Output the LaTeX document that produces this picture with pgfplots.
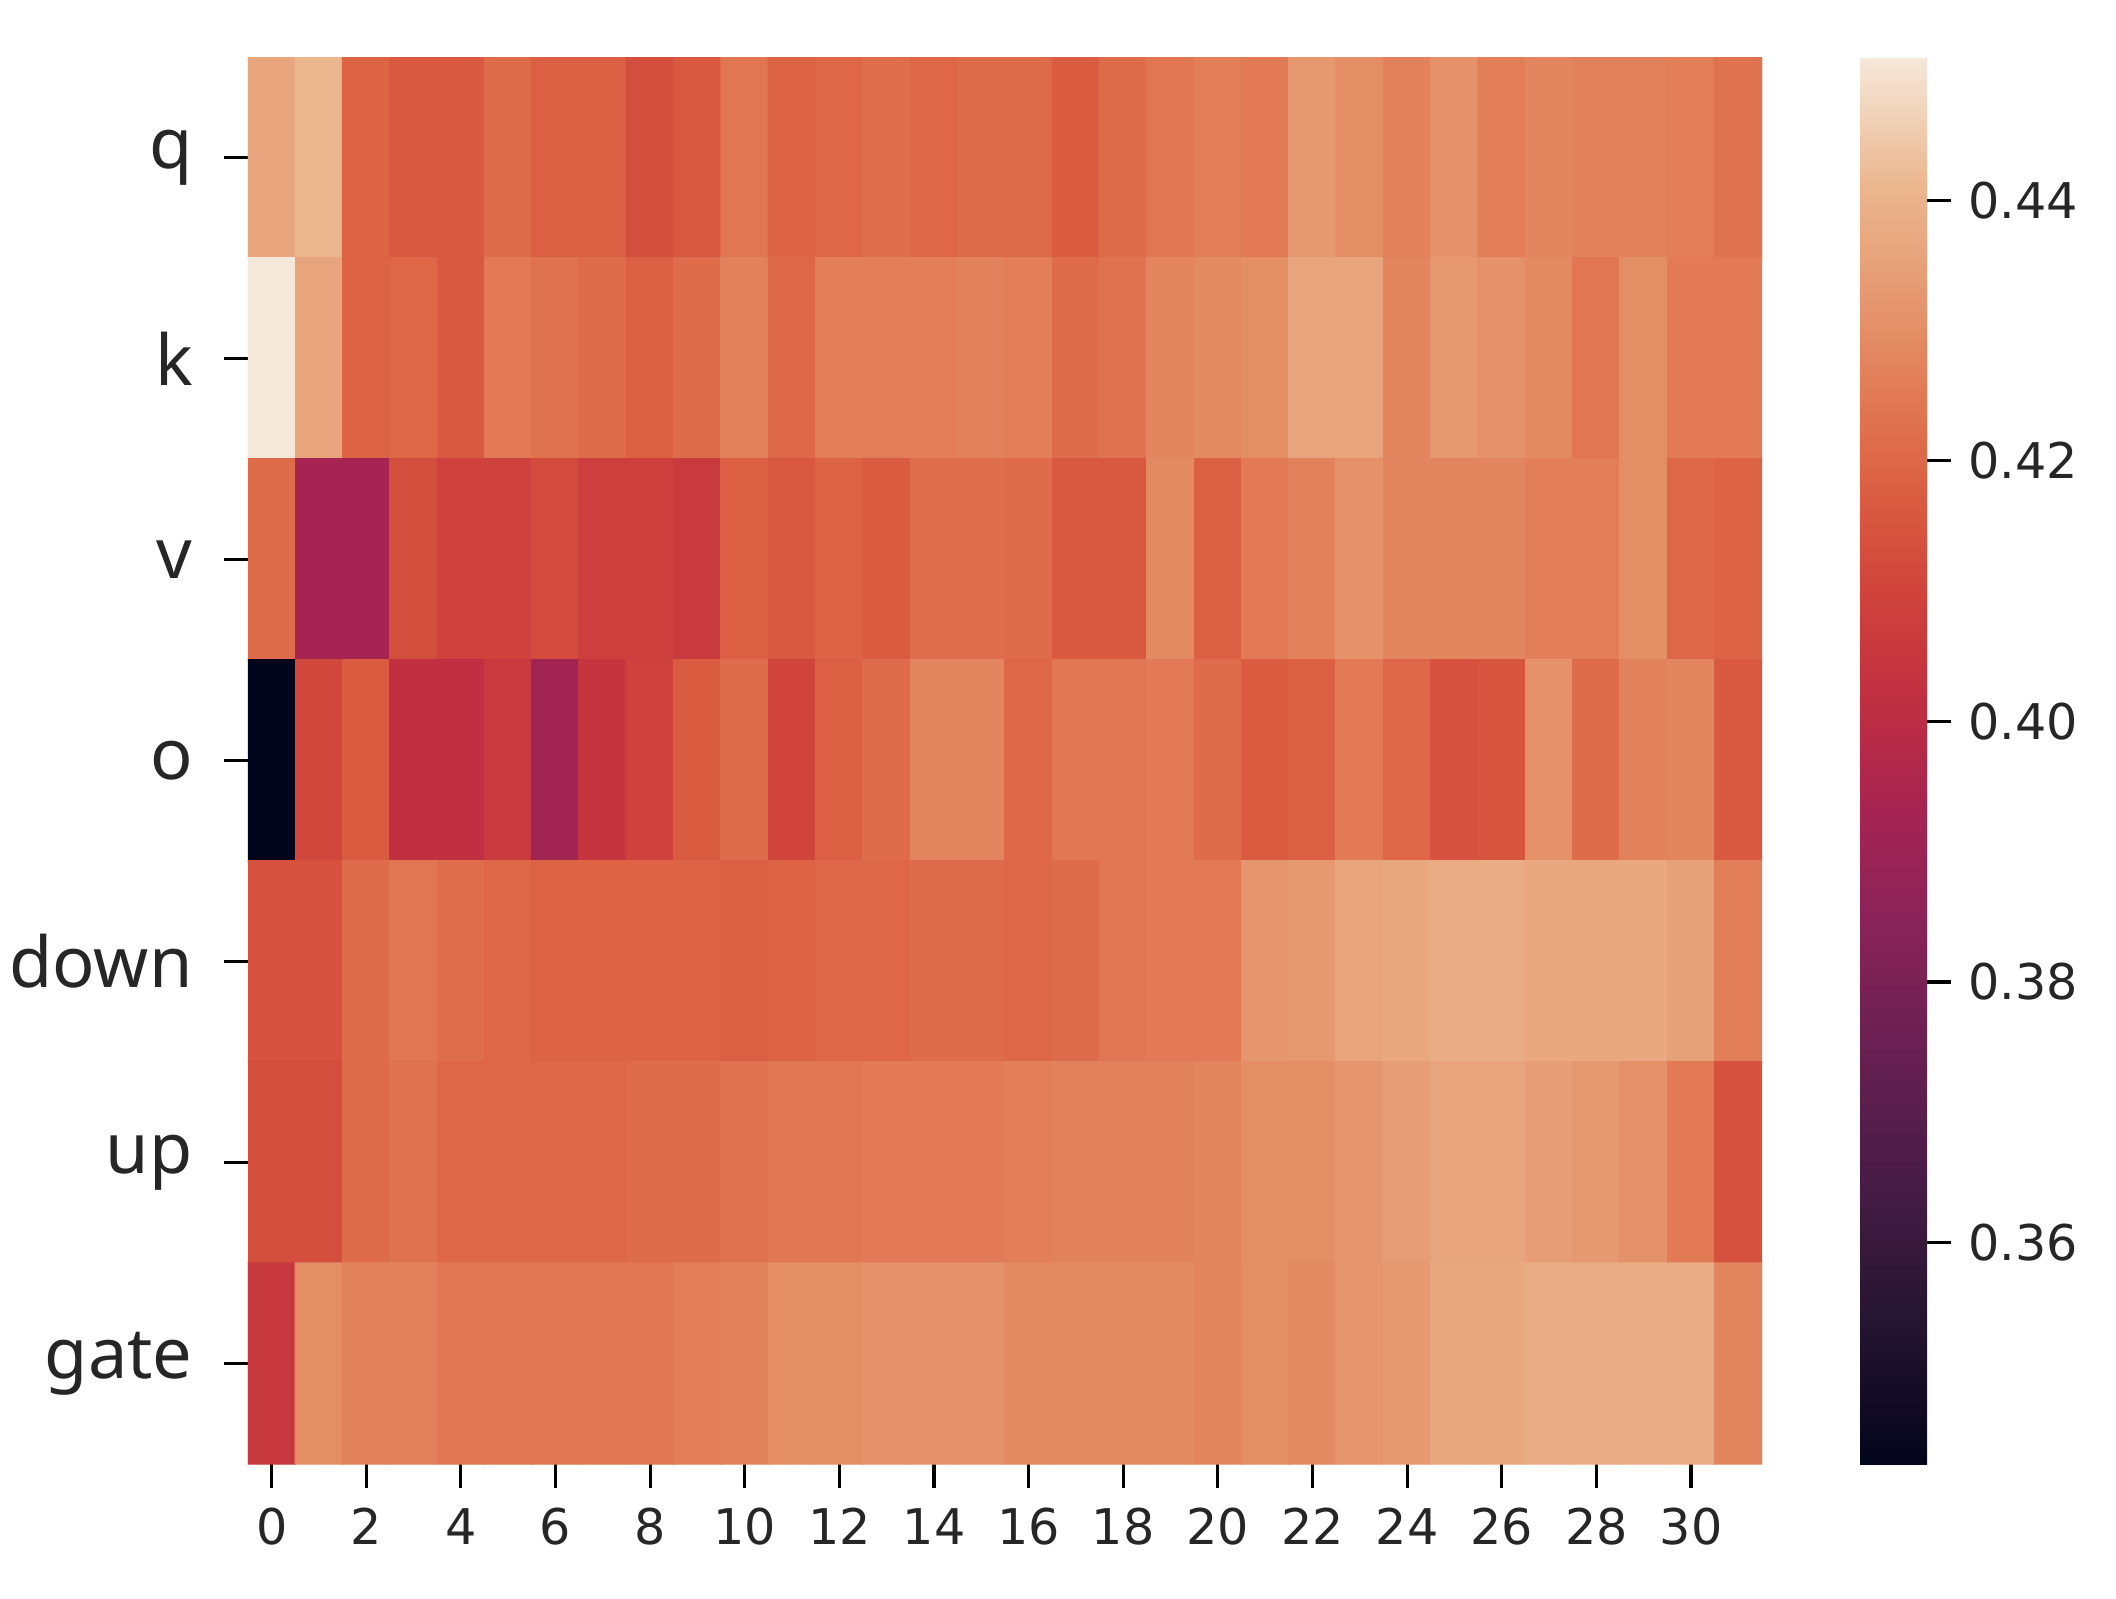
\documentclass[border=0pt]{standalone}
\usepackage{fontspec}
\setmainfont{DejaVu Sans}
\newfontfamily\labelfont{Noto Sans}
\usepackage{pgfplots}
\pgfplotsset{compat=1.18}
\pgfplotsset{colormap={rocketref}{
 rgb255(0cm)=(3,5,26); rgb255(12cm)=(40,22,50); rgb255(22cm)=(72,28,70);
 rgb255(32cm)=(105,32,82); rgb255(42cm)=(140,35,88); rgb255(50cm)=(165,36,82);
 rgb255(57cm)=(188,44,68); rgb255(62cm)=(198,55,62); rgb255(67cm)=(208,68,60);
 rgb255(72cm)=(215,85,62); rgb255(77cm)=(221,103,70); rgb255(82cm)=(225,122,85);
 rgb255(87cm)=(228,142,102); rgb255(93cm)=(232,165,125); rgb255(98cm)=(235,182,142);
 rgb255(108cm)=(245,232,218)}}
\pgfplotstableread{
x y z
0 0 0.436
1 0 0.441
2 0 0.419
3 0 0.416
4 0 0.416
5 0 0.421
6 0 0.418
7 0 0.418
8 0 0.413
9 0 0.416
10 0 0.424
11 0 0.419
12 0 0.420
13 0 0.422
14 0 0.420
15 0 0.421
16 0 0.421
17 0 0.417
18 0 0.421
19 0 0.424
20 0 0.426
21 0 0.425
22 0 0.433
23 0 0.430
24 0 0.427
25 0 0.431
26 0 0.426
27 0 0.428
28 0 0.427
29 0 0.427
30 0 0.426
31 0 0.423
0 1 0.451
1 1 0.436
2 1 0.419
3 1 0.420
4 1 0.416
5 1 0.425
6 1 0.423
7 1 0.421
8 1 0.418
9 1 0.421
10 1 0.427
11 1 0.420
12 1 0.426
13 1 0.426
14 1 0.426
15 1 0.427
16 1 0.426
17 1 0.421
18 1 0.423
19 1 0.428
20 1 0.429
21 1 0.430
22 1 0.436
23 1 0.436
24 1 0.428
25 1 0.433
26 1 0.431
27 1 0.429
28 1 0.424
29 1 0.430
30 1 0.425
31 1 0.425
0 2 0.421
1 2 0.393
2 2 0.393
3 2 0.413
4 2 0.409
5 2 0.409
6 2 0.412
7 2 0.408
8 2 0.408
9 2 0.406
10 2 0.418
11 2 0.416
12 2 0.419
13 2 0.417
14 2 0.422
15 2 0.422
16 2 0.421
17 2 0.416
18 2 0.416
19 2 0.429
20 2 0.418
21 2 0.425
22 2 0.427
23 2 0.431
24 2 0.428
25 2 0.428
26 2 0.428
27 2 0.426
28 2 0.426
29 2 0.430
30 2 0.420
31 2 0.419
0 3 0.343
1 3 0.411
2 3 0.417
3 3 0.402
4 3 0.402
5 3 0.406
6 3 0.392
7 3 0.404
8 3 0.409
9 3 0.417
10 3 0.421
11 3 0.410
12 3 0.418
13 3 0.421
14 3 0.428
15 3 0.428
16 3 0.420
17 3 0.424
18 3 0.424
19 3 0.425
20 3 0.421
21 3 0.417
22 3 0.418
23 3 0.425
24 3 0.420
25 3 0.414
26 3 0.415
27 3 0.431
28 3 0.421
29 3 0.427
30 3 0.428
31 3 0.416
0 4 0.414
1 4 0.414
2 4 0.421
3 4 0.424
4 4 0.422
5 4 0.420
6 4 0.419
7 4 0.419
8 4 0.419
9 4 0.419
10 4 0.418
11 4 0.419
12 4 0.420
13 4 0.420
14 4 0.421
15 4 0.421
16 4 0.420
17 4 0.421
18 4 0.424
19 4 0.425
20 4 0.425
21 4 0.432
22 4 0.433
23 4 0.436
24 4 0.437
25 4 0.438
26 4 0.438
27 4 0.437
28 4 0.437
29 4 0.437
30 4 0.435
31 4 0.426
0 5 0.413
1 5 0.413
2 5 0.421
3 5 0.423
4 5 0.420
5 5 0.420
6 5 0.420
7 5 0.420
8 5 0.421
9 5 0.421
10 5 0.423
11 5 0.424
12 5 0.424
13 5 0.425
14 5 0.425
15 5 0.425
16 5 0.426
17 5 0.427
18 5 0.427
19 5 0.427
20 5 0.428
21 5 0.430
22 5 0.430
23 5 0.432
24 5 0.434
25 5 0.436
26 5 0.436
27 5 0.434
28 5 0.433
29 5 0.431
30 5 0.425
31 5 0.414
0 6 0.405
1 6 0.430
2 6 0.427
3 6 0.427
4 6 0.424
5 6 0.424
6 6 0.424
7 6 0.424
8 6 0.424
9 6 0.426
10 6 0.427
11 6 0.430
12 6 0.430
13 6 0.431
14 6 0.431
15 6 0.431
16 6 0.429
17 6 0.429
18 6 0.429
19 6 0.429
20 6 0.428
21 6 0.430
22 6 0.429
23 6 0.432
24 6 0.433
25 6 0.437
26 6 0.437
27 6 0.438
28 6 0.438
29 6 0.438
30 6 0.438
31 6 0.428
}\heat
\begin{document}
\begin{tikzpicture}
\path[use as bounding box] (-24.8mm,-13.4mm) rectangle (186.8mm,146.4mm);
\begin{axis}[
  at={(0,0)}, anchor=south west,
  scale only axis, width=151.4mm, height=140.7mm,
  xmin=-0.5, xmax=31.5, ymin=-0.5, ymax=6.5,
  y dir=reverse, enlargelimits=false,
  axis line style={draw=none},
  tick align=outside, major tick length=2.4mm,
  tick style={black, line width=0.9pt},
  xtick={0,2,...,30}, ytick={0,1,2,3,4,5,6},
  yticklabels={q,k,v,o,down,up,gate},
  xtick pos=bottom, ytick pos=left,
  /pgf/number format/assume math mode=true,
  xticklabel style={font=\fontsize{14}{16}\selectfont, text=black!85, yshift=-0.8mm},
  yticklabel style={font=\labelfont\fontsize{20}{24}\selectfont, text=black!85, xshift=-1.9mm},
  colormap name=rocketref,
  point meta min=0.343, point meta max=0.451,
  colorbar,
  colorbar/width=6.7mm,
  colorbar style={
    at={(parent axis.north east)}, anchor=north west, xshift=6.8mm,
    scale only axis, height=140.7mm, y dir=normal,
    axis line style={draw=none},
    xtick=\empty,
    ytick={0.36,0.38,0.40,0.42,0.44},
    yticklabels={0.36,0.38,0.40,0.42,0.44},
    ytick pos=right, yticklabel pos=right,
    tick align=outside, major tick length=2.4mm,
    tick style={black, line width=0.9pt},
    yticklabel style={font=\fontsize{14}{16}\selectfont, text=black!85, xshift=0.5mm},
  },
]
\addplot[matrix plot*, mesh/cols=32, point meta=explicit] table[x=x, y=y, meta=z] {\heat};
\end{axis}
\end{tikzpicture}
\end{document}
